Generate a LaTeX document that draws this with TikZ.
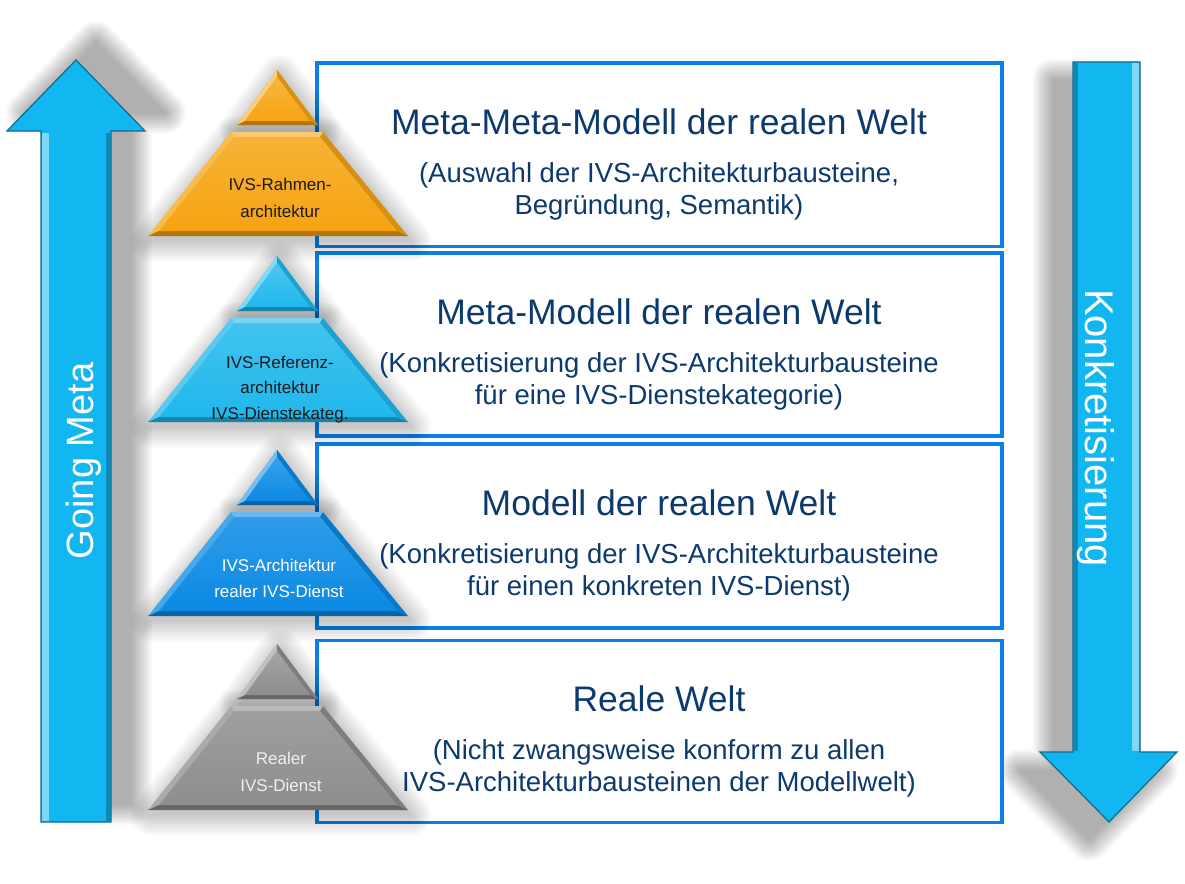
\documentclass[tikz,border=0pt]{standalone}
\usepackage{fontspec}
\setmainfont{Liberation Sans}
\definecolor{arrowc}{RGB}{18,182,240}
\definecolor{boxblue}{RGB}{10,128,232}
\definecolor{navy}{RGB}{12,58,110}
\definecolor{porange}{RGB}{246,164,18}
\definecolor{pcyan}{RGB}{32,184,236}
\definecolor{pblue}{RGB}{10,138,228}
\definecolor{pgray}{RGB}{142,142,142}
\definecolor{darktext}{RGB}{26,26,26}
\tikzset{
 box/.style={draw=boxblue, line width=3.5pt, fill=white, minimum width=685pt, inner sep=0pt, anchor=north west},
 title/.style={anchor=base, text=navy, font=\fontsize{35.5}{40}\selectfont},
 sub/.style={anchor=base, text=navy, font=\fontsize{27.5}{32}\selectfont},
 ptext/.style={anchor=base, inner sep=0pt, font=\fontsize{17}{20}\selectfont},
 arrowtext/.style={anchor=base, inner sep=0pt, text=white},
}
\newcommand{\softshadow}[3][0.032]{\foreach \w in {1,5,9,13,17,21,25,29,33,37,41}{\begin{scope}[transparency group, opacity=#1]\filldraw[black, line width=\w pt, line join=round, shift={#2}] #3;\end{scope}}}
\newcommand{\drawpyr}[2]{%
\begin{scope}[shift={(0,#1)}]
 \softshadow[0.018]{(3,5)}{(277,0)--(318,55)--(237,55)--cycle}
 \softshadow[0.018]{(3,5)}{(231,62)--(323,62)--(408,166)--(148,166)--cycle}
 \fill[#2] (277,0)--(318,55)--(237,55)--cycle;
 \fill[#2!55!white] (277,0)--(277,7)--(245,51)--(237,55)--cycle;
 \fill[#2!88!black] (277,0)--(318,55)--(310,51)--(277,7)--cycle;
 \fill[#2!72!black] (237,55)--(318,55)--(310,51)--(245,51)--cycle;
 \shade[top color=#2!80!white, bottom color=#2] (277,7)--(310,51)--(245,51)--cycle;
 \fill[#2!60!white] (231,62)--(323,62)--(320,67)--(234,67)--cycle;
 \fill[#2!75!white] (231,62)--(234,67)--(159,161)--(148,166)--cycle;
 \fill[#2!88!black] (323,62)--(408,166)--(397,161)--(320,67)--cycle;
 \fill[#2!72!black] (148,166)--(408,166)--(397,161)--(159,161)--cycle;
 \shade[top color=#2!85!white, bottom color=#2] (234,67)--(320,67)--(397,161)--(159,161)--cycle;
\end{scope}}
\begin{document}
\begin{tikzpicture}[x=1pt,y=-1pt]
\useasboundingbox (0,0) rectangle (1185,883);
\fill[white] (0,0) rectangle (1185,883);

% arrows
\softshadow{(20,-18)}{(76,60)--(145,131)--(111,131)--(111,822)--(41,822)--(41,131)--(7,131)--cycle}
\softshadow{(-20,18)}{(1073,62)--(1140,62)--(1140,752)--(1177,752)--(1109,822)--(1040,752)--(1073,752)--cycle}
\fill[arrowc] (76,60)--(145,131)--(111,131)--(111,822)--(41,822)--(41,131)--(7,131)--cycle;
\fill[arrowc!55!white] (42,133) rectangle (49,821);
\fill[arrowc!75!black] (106,133) rectangle (110,821);
\draw[arrowc!60!black, line width=1.2pt] (76,60)--(145,131)--(111,131)--(111,822)--(41,822)--(41,131)--(7,131)--cycle;
\fill[arrowc] (1073,62)--(1140,62)--(1140,752)--(1177,752)--(1109,822)--(1040,752)--(1073,752)--cycle;
\fill[arrowc!55!white] (1132,63) rectangle (1139,751);
\fill[arrowc!75!black] (1074,63) rectangle (1078,751);
\draw[arrowc!60!black, line width=1.2pt] (1073,62)--(1140,62)--(1140,752)--(1177,752)--(1109,822)--(1040,752)--(1073,752)--cycle;
\node[arrowtext, rotate=90, font=\fontsize{38}{40}\selectfont] (gm) at (93,461) {Going Meta};
\node[arrowtext, rotate=-90, font=\fontsize{40}{42}\selectfont] (kk) at (1085,428) {Konkretisierung};

% boxes
\node[box, minimum height=183pt] (b1) at (315,61.5) {};
\node[box, minimum height=183pt] (b2) at (315,251) {};
\node[box, minimum height=184pt] (b3) at (315,442) {};
\node[box, minimum height=182pt] (b4) at (315,638.5) {};

\node[title] (t1) at (659,134.5) {Meta-Meta-Modell der realen Welt};
\node[sub] (s1a) at (659,182.5) {(Auswahl der IVS-Architekturbausteine,};
\node[sub] (s1b) at (659,214.5) {Begründung, Semantik)};

\node[title] (t2) at (659,324) {Meta-Modell der realen Welt};
\node[sub] (s2a) at (659,372) {(Konkretisierung der IVS-Architekturbausteine};
\node[sub] (s2b) at (659,404) {für eine IVS-Dienstekategorie)};

\node[title] (t3) at (659,515) {Modell der realen Welt};
\node[sub] (s3a) at (659,563) {(Konkretisierung der IVS-Architekturbausteine};
\node[sub] (s3b) at (659,595) {für einen konkreten IVS-Dienst)};

\node[title] (t4) at (659,711.5) {Reale Welt};
\node[sub] (s4a) at (659,759.5) {(Nicht zwangsweise konform zu allen};
\node[sub] (s4b) at (659,791.5) {IVS-Architekturbausteinen der Modellwelt)};

% pyramids
\drawpyr{70}{porange}
\drawpyr{256}{pcyan}
\drawpyr{450}{pblue}
\drawpyr{644}{pgray}

\node[ptext, text=darktext] (p1a) at (280,190) {IVS-Rahmen-};
\node[ptext, text=darktext] (p1b) at (280,217) {architektur};
\node[ptext, text=darktext] (p2a) at (280,368) {IVS-Referenz-};
\node[ptext, text=darktext] (p2b) at (280,393) {architektur};
\node[ptext, text=darktext] (p2c) at (280,419) {IVS-Dienstekateg.};
\node[ptext, text=white] (p3a) at (279,571) {IVS-Architektur};
\node[ptext, text=white] (p3b) at (279,597) {realer IVS-Dienst};
\node[ptext, text=white!94!black] (p4a) at (281,764) {Realer};
\node[ptext, text=white!94!black] (p4b) at (281,791) {IVS-Dienst};
\end{tikzpicture}
\end{document}
